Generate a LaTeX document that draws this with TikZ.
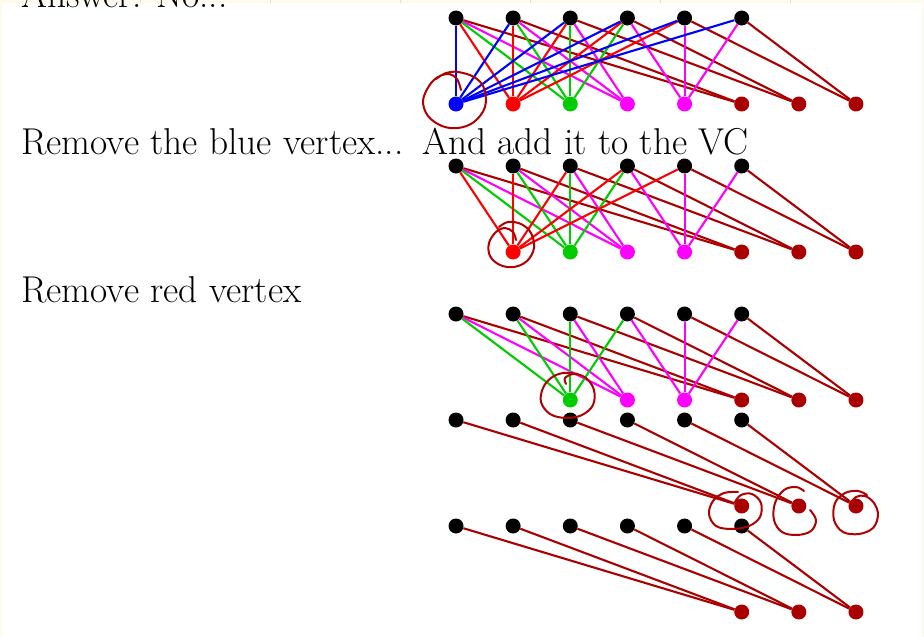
\documentclass[tikz,border=0pt]{standalone}
\usepackage{fontspec}
\definecolor{cream}{HTML}{FEFBEA}
\definecolor{blueV}{HTML}{0000FF}
\definecolor{redV}{HTML}{FF0000}
\definecolor{greenV}{HTML}{00CC00}
\definecolor{magV}{HTML}{FF00FF}
\definecolor{dredV}{HTML}{AA0000}
\definecolor{annoC}{HTML}{B00000}
\newcommand\mytoprow[2]{%
  \foreach \i in {1,...,6} {\node[vtx, fill=black] (#1t\i) at ({456+57.14*(\i-1)}, #2) {};}}
\newcommand\mybot[4]{% graph, index, y, colour
  \node[vtx, fill=#4] (#1b#2) at ({456+57.14*(#2-1)}, #3) {};}
\begin{document}
\begin{tikzpicture}[x=1pt,y=-1pt,
  vtx/.style={circle, inner sep=0pt, minimum size=15pt, draw=none},
  edge/.style={line width=2.1pt},
  anno/.style={draw=annoC, line width=2pt, line cap=round, line join=round},
  lbl/.style={anchor=base west, inner sep=0pt, font=\fontsize{37.4}{44}\selectfont}]
\useasboundingbox (0,0) rectangle (924,637);
\clip (0,0) rectangle (924,637);
\fill[cream] (0,0) rectangle (924,637);
\fill[white] (2,3) rectangle (922,637);
\foreach \gx in {140,270,400,530,660,790} {\draw[gray!25, line width=0.6pt] (\gx,0) -- (\gx,3);}

% texts
\node[lbl] (answer) at (21,8) {Answer: No...};
\node[lbl] (rmblue) at (21,154) {Remove the blue vertex...};
\node[lbl] (addvc) at (422,154) {And add it to the VC};
\node[lbl] (rmred) at (21,302) {Remove red vertex};

% ---------- graph 1 ----------
\mytoprow{a}{18}
\mybot{a}{1}{104}{blueV}
\mybot{a}{2}{104}{redV}
\mybot{a}{3}{104}{greenV}
\mybot{a}{4}{104}{magV}
\mybot{a}{5}{104}{magV}
\mybot{a}{6}{104}{dredV}
\mybot{a}{7}{104}{dredV}
\mybot{a}{8}{104}{dredV}
\foreach \t/\b in {1/6,2/6,3/7,4/7,5/8,6/8} \draw[edge, dredV] (at\t) -- (ab\b);
\foreach \t/\b in {1/4,2/4,3/4,4/5,5/5,6/5} \draw[edge, magV] (at\t) -- (ab\b);
\foreach \t/\b in {1/3,2/3,3/3,4/3} \draw[edge, greenV] (at\t) -- (ab\b);
\foreach \t/\b in {1/2,2/2,3/2,4/2,5/2} \draw[edge, redV] (at\t) -- (ab\b);
\foreach \t/\b in {1/1,2/1,3/1,4/1,5/1,6/1} \draw[edge, blueV] (at\t) -- (ab\b);

% ---------- graph 2 ----------
\mytoprow{b}{166}
\mybot{b}{2}{252}{redV}
\mybot{b}{3}{252}{greenV}
\mybot{b}{4}{252}{magV}
\mybot{b}{5}{252}{magV}
\mybot{b}{6}{252}{dredV}
\mybot{b}{7}{252}{dredV}
\mybot{b}{8}{252}{dredV}
\foreach \t/\b in {1/6,2/6,3/7,4/7,5/8,6/8} \draw[edge, dredV] (bt\t) -- (bb\b);
\foreach \t/\b in {1/4,2/4,3/4,4/5,5/5,6/5} \draw[edge, magV] (bt\t) -- (bb\b);
\foreach \t/\b in {1/3,2/3,3/3,4/3} \draw[edge, greenV] (bt\t) -- (bb\b);
\foreach \t/\b in {1/2,2/2,3/2,4/2,5/2} \draw[edge, redV] (bt\t) -- (bb\b);

% ---------- graph 3 ----------
\mytoprow{c}{314}
\mybot{c}{3}{400}{greenV}
\mybot{c}{4}{400}{magV}
\mybot{c}{5}{400}{magV}
\mybot{c}{6}{400}{dredV}
\mybot{c}{7}{400}{dredV}
\mybot{c}{8}{400}{dredV}
\foreach \t/\b in {1/6,2/6,3/7,4/7,5/8,6/8} \draw[edge, dredV] (ct\t) -- (cb\b);
\foreach \t/\b in {1/4,2/4,3/4,4/5,5/5,6/5} \draw[edge, magV] (ct\t) -- (cb\b);
\foreach \t/\b in {1/3,2/3,3/3,4/3} \draw[edge, greenV] (ct\t) -- (cb\b);

% ---------- graph 4 ----------
\mytoprow{d}{420}
\mybot{d}{6}{506}{dredV}
\mybot{d}{7}{506}{dredV}
\mybot{d}{8}{506}{dredV}
\foreach \t/\b in {1/6,2/6,3/7,4/7,5/8,6/8} \draw[edge, dredV] (dt\t) -- (db\b);

% ---------- graph 5 ----------
\mytoprow{e}{526}
\mybot{e}{6}{612}{dredV}
\mybot{e}{7}{612}{dredV}
\mybot{e}{8}{612}{dredV}
\foreach \t/\b in {1/6,2/6,3/7,4/7,5/8,6/8} \draw[edge, dredV] (et\t) -- (eb\b);

% ---------- hand-drawn annotations ----------
\draw[anno] plot[smooth, tension=0.6] coordinates {(461,90) (457,79) (449,74) (438,77) (429,86) (423,101) (428,116) (442,126) (458,128) (474,122) (485,107) (484,88) (474,77) (458,72) (446,73) (436,79)};
\draw[anno] plot[smooth, tension=0.6] coordinates {(516,240) (513,232) (505,228) (496,232) (489,243) (490,256) (500,265) (514,267) (527,261) (534,248) (531,233) (521,224) (508,222) (499,227)};
\draw[anno] plot[smooth, tension=0.6] coordinates {(566,384) (565,378) (574,374) (586,378) (594,390) (593,405) (582,415) (566,418) (550,414) (541,402) (543,388) (551,378) (563,373) (578,374)};
\draw[anno] plot[smooth, tension=0.6] coordinates {(735,502) (741,495) (752,494) (761,503) (760,517) (749,526) (732,529) (716,526) (709,514) (713,501) (724,493) (738,492)};
\draw[anno] plot[smooth, tension=0.6] coordinates {(804,491) (796,487) (784,490) (775,503) (774,520) (782,532) (797,535) (811,531) (816,520) (810,510)};
\draw[anno] plot[smooth, tension=0.6] coordinates {(850,504) (856,497) (865,496) (874,503) (878,515) (873,528) (859,534) (843,532) (834,520) (835,503) (845,493) (858,491) (867,495)};
\end{tikzpicture}
\end{document}
